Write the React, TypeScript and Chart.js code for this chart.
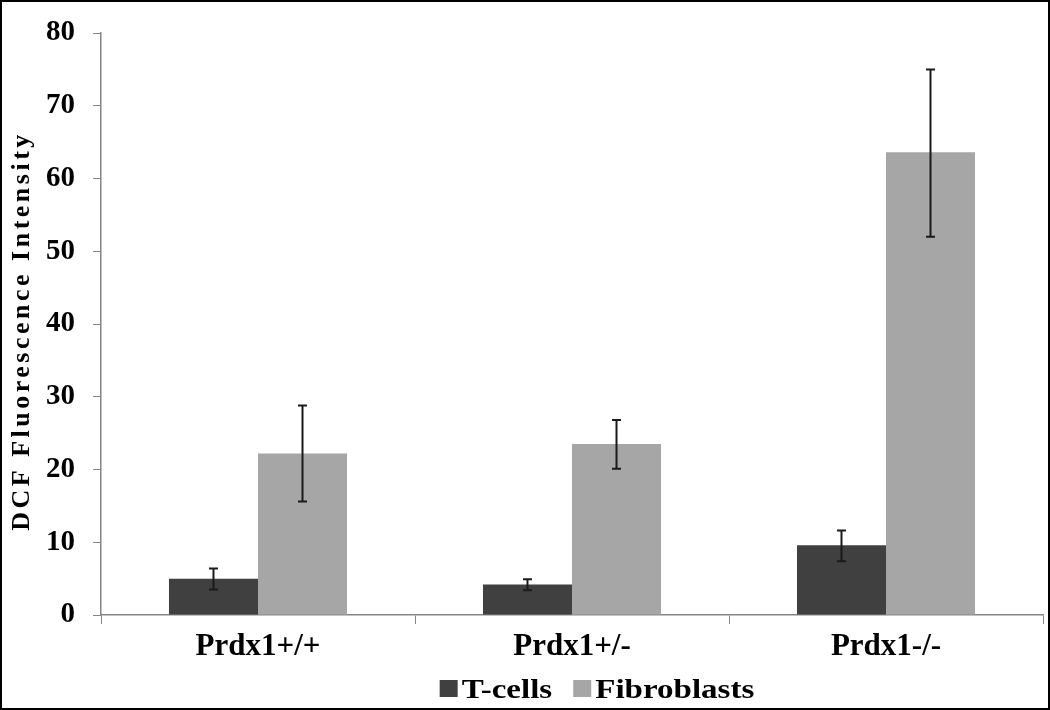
import React, { useEffect, useRef } from "react";
import { Chart, registerables } from "chart.js";

Chart.register(...registerables);

const categories = ["Prdx1+/+", "Prdx1+/-", "Prdx1-/-"];
const seriesNames = ["T-cells", "Fibroblasts"];
const seriesColors = ["#404040", "#a6a6a6"];
const tcellValues = [5.0, 4.2, 9.6];
const tcellErrLow = [3.5, 3.4, 7.4];
const tcellErrHigh = [6.4, 4.9, 11.6];
const fibroValues = [22.2, 23.5, 63.6];
const fibroErrLow = [15.6, 20.1, 52.0];
const fibroErrHigh = [28.8, 26.8, 75.0];
const yTicks = [0, 10, 20, 30, 40, 50, 60, 70, 80];
const yTitle = "DCF Fluorescence Intensity";

const FONT = "'Liberation Serif', 'Times New Roman', serif";

const errorBarPlugin = {
  id: "errorBars",
  afterDatasetsDraw(chart: any) {
    const ctx = chart.ctx;
    const y = chart.scales.y;
    chart.data.datasets.forEach((ds: any, di: number) => {
      const meta = chart.getDatasetMeta(di);
      meta.data.forEach((bar: any, i: number) => {
        const lo = y.getPixelForValue(ds.errLow[i]);
        const hi = y.getPixelForValue(ds.errHigh[i]);
        const x = bar.x;
        ctx.save();
        ctx.strokeStyle = "#1a1a1a";
        ctx.lineWidth = 2;
        ctx.beginPath();
        ctx.moveTo(x, lo);
        ctx.lineTo(x, hi);
        ctx.moveTo(x - 4.5, lo);
        ctx.lineTo(x + 4.5, lo);
        ctx.moveTo(x - 4.5, hi);
        ctx.lineTo(x + 4.5, hi);
        ctx.stroke();
        ctx.restore();
      });
    });
  },
};

const decorPlugin = {
  id: "decor",
  afterDraw(chart: any) {
    const ctx = chart.ctx;
    // y-axis title
    ctx.save();
    ctx.translate(20, 329);
    ctx.rotate(-Math.PI / 2);
    ctx.font = `bold 26px ${FONT}`;
    (ctx as any).letterSpacing = "3.5px";
    ctx.fillStyle = "#000";
    ctx.textAlign = "center";
    ctx.textBaseline = "middle";
    ctx.fillText(yTitle, 0, 0);
    ctx.restore();

    // legend
    ctx.save();
    const sx = 1.18;
    ctx.font = `bold 28px ${FONT}`;
    const boxW = 18;
    const boxH = 17;
    const gapBoxText = 4;
    const gapItems = 21;
    const widths = seriesNames.map((n) => ctx.measureText(n).width * sx);
    let total = 0;
    widths.forEach((w, i) => {
      total += boxW + gapBoxText + w + (i < widths.length - 1 ? gapItems : 0);
    });
    let x = 595 - total / 2;
    const boxTop = 678;
    const baseline = 696;
    seriesNames.forEach((n, i) => {
      ctx.fillStyle = seriesColors[i];
      ctx.fillRect(x, boxTop, boxW, boxH);
      x += boxW + gapBoxText;
      ctx.save();
      ctx.translate(x, baseline);
      ctx.scale(sx, 1);
      ctx.fillStyle = "#000";
      ctx.textAlign = "left";
      ctx.textBaseline = "alphabetic";
      ctx.fillText(n, 0, 0);
      ctx.restore();
      x += widths[i] + gapItems;
    });
    ctx.restore();
  },
};

export default function App() {
  const ref = useRef<HTMLCanvasElement | null>(null);
  useEffect(() => {
    if (!ref.current) return;
    const chart = new Chart(ref.current, {
      type: "bar",
      data: {
        labels: categories,
        datasets: [
          {
            label: seriesNames[0],
            data: tcellValues,
            backgroundColor: seriesColors[0],
            errLow: tcellErrLow,
            errHigh: tcellErrHigh,
          } as any,
          {
            label: seriesNames[1],
            data: fibroValues,
            backgroundColor: seriesColors[1],
            errLow: fibroErrLow,
            errHigh: fibroErrHigh,
          } as any,
        ],
      },
      options: {
        animation: false,
        responsive: false,
        maintainAspectRatio: false,
        layout: { padding: { top: 31, right: 5, left: 0, bottom: 46 } },
        datasets: { bar: { categoryPercentage: 0.567, barPercentage: 1.0 } },
        plugins: {
          tooltip: { enabled: false },
          legend: { display: false },
        },
        scales: {
          x: {
            grid: {
              drawOnChartArea: false,
              drawTicks: true,
              tickLength: 9,
              color: "#868686",
              offset: true,
            },
            border: { color: "#868686", width: 1.5 },
            ticks: {
              color: "#000",
              font: { family: FONT, size: 31, weight: "bold" },
              padding: 4,
            },
            afterFit: (s: any) => {
              s.height = 47;
              s.paddingLeft = 0;
              s.paddingRight = 0;
            },
          },
          y: {
            min: 0,
            max: 80,
            afterBuildTicks: (s: any) => {
              s.ticks = yTicks.map((v) => ({ value: v }));
            },
            grid: {
              drawOnChartArea: false,
              drawTicks: true,
              tickLength: 8,
              color: "#868686",
            },
            border: { color: "#868686", width: 1.5 },
            ticks: {
              color: "#000",
              font: { family: FONT, size: 29, weight: "bold" },
              padding: 18,
            },
            afterFit: (s: any) => {
              s.width = 99;
              s.paddingTop = 0;
              s.paddingBottom = 0;
            },
          },
        },
      } as any,
      plugins: [errorBarPlugin, decorPlugin],
    });
    return () => chart.destroy();
  }, []);
  return (
    <div
      style={{
        position: "fixed",
        left: 0,
        top: 0,
        width: 1050,
        height: 710,
        boxSizing: "border-box",
        border: "2px solid #000",
        background: "#fff",
      }}
    >
      <canvas ref={ref} width={1046} height={706} style={{ display: "block" }} />
    </div>
  );
}
